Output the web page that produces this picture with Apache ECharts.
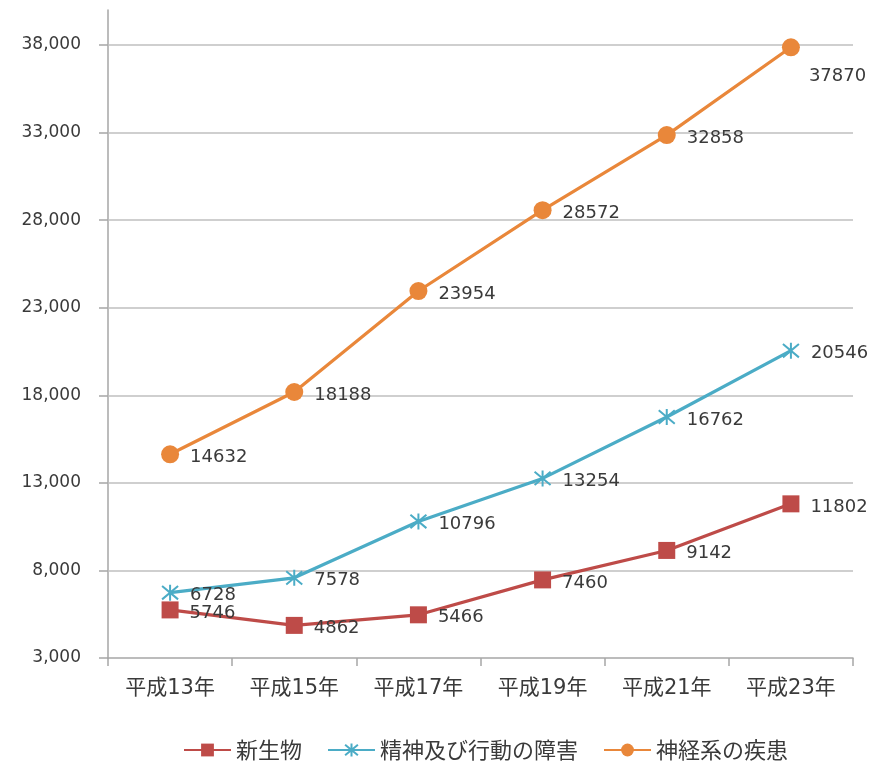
<!DOCTYPE html>
<html>
<head>
<meta charset="utf-8">
<script src="https://cdn.jsdelivr.net/npm/echarts@6/dist/echarts.min.js"></script>
<style>
  html, body { margin: 0; padding: 0; background: #fff; }
  #chart { width: 872px; height: 762px; }
</style>
</head>
<body>
<div id="chart"></div>
<script>
// Fiscal years on the category axis
const years = ['平成13年', '平成15年', '平成17年', '平成19年', '平成21年', '平成23年'];

// Counts per disease group
const neoplasms = [5746, 4862, 5466, 7460, 9142, 11802];
const mentalDisorders = [6728, 7578, 10796, 13254, 16762, 20546];
const nervousSystem = [14632, 18188, 23954, 28572, 32858, 37870];

// Series names shown in the legend
const seriesNames = ['新生物', '精神及び行動の障害', '神経系の疾患'];

// Value axis gridline positions
const gridTicks = [8000, 13000, 18000, 23000, 28000, 33000, 38000];

const FONT = '"DejaVu Sans", "Noto Sans CJK JP", sans-serif';
const CJK_FONT = '"Noto Sans CJK JP", sans-serif';
const TEXT = '#3a3a3a';
const AXIS_GRAY = '#a6a6a6';

// Asterisk-style marker (X plus vertical stroke)
const asterisk = 'path://M0,0L10,10M10,0L0,10M5,-1L5,11';

const labelBase = {
  show: true,
  position: 'right',
  distance: 11,
  offset: [0, 3],
  color: TEXT,
  fontSize: 18,
  fontFamily: FONT
};

function withLastLabel(values, lastLabel) {
  return values.map((v, i) =>
    i === values.length - 1 && lastLabel ? { value: v, label: lastLabel } : v
  );
}

const chart = echarts.init(document.getElementById('chart'), null, { renderer: 'canvas' });

chart.setOption({
  animation: false,
  backgroundColor: '#ffffff',
  textStyle: { fontFamily: FONT },
  grid: { left: 108, right: 19, top: 10, bottom: 104, containLabel: false },
  legend: {
    data: seriesNames,
    top: 734,
    left: 178,
    itemWidth: 47,
    itemHeight: 16,
    itemGap: 25,
    textStyle: { color: TEXT, fontSize: 22, fontFamily: CJK_FONT }
  },
  xAxis: {
    type: 'category',
    data: years,
    boundaryGap: true,
    axisLine: { show: true, lineStyle: { color: AXIS_GRAY, width: 1.5 } },
    axisTick: { show: true, length: 8, alignWithLabel: false, lineStyle: { color: AXIS_GRAY, width: 1.5 } },
    axisLabel: { color: TEXT, fontSize: 21, fontFamily: FONT, margin: 20 }
  },
  yAxis: {
    type: 'value',
    min: 3000,
    max: 40000,
    interval: 5000,
    axisLine: { show: true, lineStyle: { color: AXIS_GRAY, width: 1.5 } },
    axisTick: { show: true, length: 9, lineStyle: { color: AXIS_GRAY, width: 1.5 } },
    splitLine: { show: false },
    axisLabel: {
      color: TEXT,
      fontSize: 17,
      fontFamily: FONT,
      margin: 27,
      showMaxLabel: false,
      formatter: v => (v % 5000 === 3000 ? v.toLocaleString('en-US') : '')
    }
  },
  series: [
    {
      name: seriesNames[0],
      type: 'line',
      data: neoplasms,
      color: '#be4b48',
      lineStyle: { width: 3.2 },
      symbol: 'rect',
      symbolSize: 17,
      itemStyle: { color: '#be4b48' },
      label: labelBase,
      z: 3
    },
    {
      name: seriesNames[1],
      type: 'line',
      data: mentalDisorders,
      color: '#4bacc6',
      lineStyle: { width: 3.2 },
      symbol: asterisk,
      symbolSize: 16,
      itemStyle: { color: '#4bacc6', borderColor: '#4bacc6', borderWidth: 2 },
      label: labelBase,
      z: 3
    },
    {
      name: seriesNames[2],
      type: 'line',
      data: withLastLabel(nervousSystem, { position: 'right', offset: [-2, 29] }),
      color: '#f79646',
      lineStyle: { width: 3.2 },
      symbol: 'circle',
      symbolSize: 18,
      itemStyle: { color: '#e9873a' },
      label: labelBase,
      z: 3,
      markLine: {
        silent: true,
        symbol: 'none',
        label: { show: false },
        lineStyle: { color: '#bfbfbf', width: 1.5, type: 'solid' },
        data: gridTicks.map(t => ({ yAxis: t })),
        z: 1
      }
    }
  ]
});
</script>
</body>
</html>
